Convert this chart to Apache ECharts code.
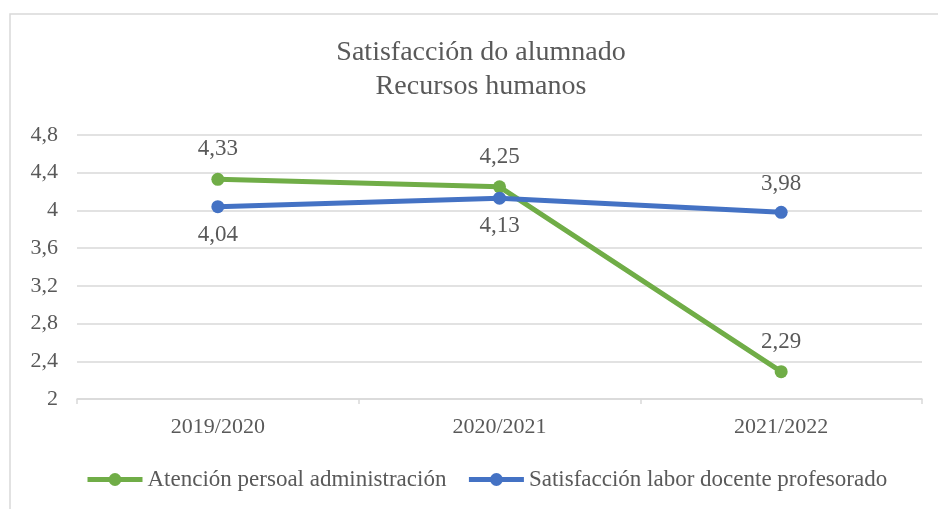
<!DOCTYPE html>
<html>
	<head>
		<title>Satisfacción do alumnado</title>
		<meta http-equiv="content-type" content="text/html; charset=UTF-8">
		<script src="https://cdn.jsdelivr.net/npm/echarts@6/dist/echarts.min.js"></script>
		<style>
			html {height: 100%; width: 100%;}
			body {height: 100%; width: 100%; margin:0px; background:#fff;}
		</style>
		<script>
			// data
			const categories = ['2019/2020', '2020/2021', '2021/2022'];
			const atencionValues = [4.33, 4.25, 2.29];
			const docenteValues = [4.04, 4.13, 3.98];
			const seriesNames = ['Atención persoal administración', 'Satisfacción labor docente profesorado'];
			const titleLines = ['Satisfacción do alumnado', 'Recursos humanos'];
			const yTicks = [2, 2.4, 2.8, 3.2, 3.6, 4, 4.4, 4.8];

			const FONT = '"Liberation Serif", "DejaVu Serif", serif';
			const TEXT = '#595959';
			const GREEN = '#70ad47';
			const BLUE = '#4472c4';

			function fmt(v){
				return String(+Number(v).toFixed(2)).replace('.', ',');
			}

			function onload() {
				let chart = echarts.init(document.getElementById('container'), null, {renderer: 'canvas'});
				// label placement per point for the blue series
				const docentePos = ['bottom', 'bottom', 'top'];
				let option = {
					animation: false,
					textStyle: {fontFamily: FONT, color: TEXT},
					graphic: [
						{
							type: 'rect',
							shape: {x: 10, y: 14, width: 1000, height: 1000},
							style: {fill: 'none', stroke: '#d9d9d9', lineWidth: 1.5},
							silent: true
						},
						{
							type: 'text',
							x: 481, y: 53,
							style: {text: titleLines[0], fontFamily: FONT, fontSize: 28, fill: TEXT, textAlign: 'center', textVerticalAlign: 'middle'},
							silent: true
						},
						{
							type: 'text',
							x: 481, y: 87,
							style: {text: titleLines[1], fontFamily: FONT, fontSize: 28, fill: TEXT, textAlign: 'center', textVerticalAlign: 'middle'},
							silent: true
						}
					],
					legend: {
						data: seriesNames,
						bottom: 13,
						left: 80,
						itemWidth: 55,
						itemHeight: 16,
						itemGap: 20,
						lineStyle: {width: 5},
						textStyle: {fontFamily: FONT, fontSize: 23, color: TEXT}
					},
					grid: {left: 77, right: 16, top: 135, bottom: 110, containLabel: false},
					xAxis: {
						type: 'category',
						data: categories,
						boundaryGap: true,
						axisLine: {lineStyle: {color: '#d9d9d9', width: 1.5}},
						axisTick: {show: true, length: 5, lineStyle: {color: '#d9d9d9', width: 1.5}},
						axisLabel: {fontFamily: FONT, fontSize: 22, color: TEXT, margin: 17}
					},
					yAxis: {
						type: 'value',
						min: yTicks[0],
						max: yTicks[yTicks.length - 1],
						interval: 0.4,
						axisLine: {show: false},
						axisTick: {show: false},
						splitLine: {lineStyle: {color: '#d9d9d9', width: 1.5}},
						axisLabel: {fontFamily: FONT, fontSize: 22, color: TEXT, margin: 19, formatter: fmt}
					},
					series: [
						{
							name: seriesNames[0],
							type: 'line',
							data: atencionValues,
							symbol: 'circle',
							symbolSize: 13,
							itemStyle: {color: GREEN},
							lineStyle: {color: GREEN, width: 5},
							label: {
								show: true, position: 'top', distance: 12,
								fontFamily: FONT, fontSize: 23, color: TEXT,
								formatter: p => fmt(p.value)
							}
						},
						{
							name: seriesNames[1],
							type: 'line',
							data: docenteValues.map((v, i) => ({
								value: v,
								label: {position: docentePos[i]}
							})),
							symbol: 'circle',
							symbolSize: 13,
							itemStyle: {color: BLUE},
							lineStyle: {color: BLUE, width: 5},
							label: {
								show: true, distance: 10,
								fontFamily: FONT, fontSize: 23, color: TEXT,
								formatter: p => fmt(p.value)
							}
						}
					]
				};
				chart.setOption(option);
			}
		</script>
	</head>
	<body onload="onload()">
		<div id="container" style="width:938px;height:509px;"></div>
	</body>
</html>
